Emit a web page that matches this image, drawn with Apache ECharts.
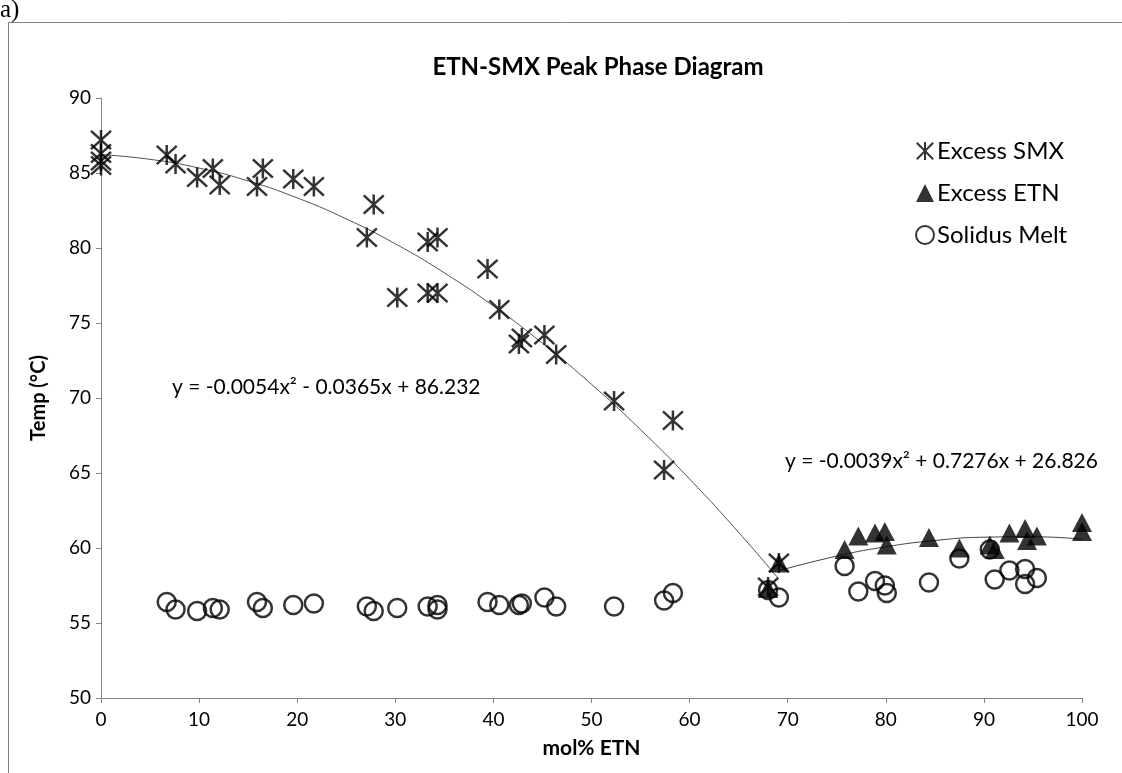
<!DOCTYPE html>
<html>
<head>
<meta charset="utf-8">
<script src="https://cdn.jsdelivr.net/npm/echarts@6/dist/echarts.min.js"></script>
<style>
html,body{margin:0;padding:0;background:#fff;}
#c{width:1122px;height:773px;}
</style>
</head>
<body>
<div id="c"></div>
<script>
// ---- data ----
const chartTitle = 'ETN-SMX Peak Phase Diagram';
const xAxisTitle = 'mol% ETN';
const yAxisTitle = 'Temp (°C)';
const seriesNames = ['Excess SMX', 'Excess ETN', 'Solidus Melt'];
const eqLeft = 'y = -0.0054x² - 0.0365x + 86.232';
const eqRight = 'y = -0.0039x² + 0.7276x + 26.826';

const excessSMX = [
  [0,87.2],[0,86.3],[0,85.8],[0,85.5],
  [6.7,86.2],[7.6,85.6],[9.8,84.7],[11.4,85.3],[12.1,84.2],[15.9,84.1],[16.5,85.3],
  [19.6,84.6],[21.7,84.1],[27.1,80.7],[27.8,82.9],[30.2,76.7],[33.3,80.4],[33.3,77.0],
  [34.3,80.7],[34.3,77.0],[39.4,78.6],[40.6,75.9],[42.6,73.6],[42.9,74.0],[45.2,74.2],
  [46.4,72.9],[52.3,69.8],[57.4,65.2],[58.3,68.5],[68.0,57.4],[69.1,59.0]
];
const excessETN = [
  [68.0,57.3],[69.1,59.0],[75.8,59.9],[77.2,60.8],[78.9,61.0],[79.9,61.1],[80.1,60.2],
  [84.4,60.7],[87.5,60.0],[90.6,60.2],[91.1,59.9],[92.6,61.0],[94.2,61.3],[94.4,60.5],
  [95.4,60.8],[100,61.7],[100,61.1]
];
const solidusMelt = [
  [6.7,56.4],[7.6,55.9],[9.8,55.8],[11.4,56.0],[12.1,55.9],[15.9,56.4],[16.5,56.0],
  [19.6,56.2],[21.7,56.3],[27.1,56.1],[27.8,55.8],[30.2,56.0],[33.3,56.1],[34.3,56.2],
  [34.3,55.9],[39.4,56.4],[40.6,56.2],[42.6,56.2],[42.9,56.3],[45.2,56.7],[46.4,56.1],
  [52.3,56.1],[57.4,56.5],[58.3,57.0],[68.0,57.2],[69.1,56.7],[75.8,58.8],[77.2,57.1],
  [78.9,57.8],[79.9,57.5],[80.1,57.0],[84.4,57.7],[87.5,59.3],[90.6,59.9],[91.1,57.9],
  [92.6,58.5],[94.2,58.6],[94.2,57.6],[95.4,58.0]
];
// trendline points
const trendSMX = [
  [0,86.23],[5,85.91],[10,85.33],[15,84.47],[20,83.34],[25,81.94],[30,80.28],[35,78.34],
  [40,76.13],[45,73.65],[50,70.91],[55,67.89],[60,64.60],[65,61.04],[69.1,57.93]
];
const trendETN = [
  [69.1,58.49],[75,59.46],[80,60.08],[85,60.50],[90,60.72],[95,60.75],[100,60.59]
];
const xTickMin = 0, xTickMax = 100, xTickStep = 10;
const yTickMin = 50, yTickMax = 90, yTickStep = 5;

// ---- chart ----
const FONT = 'Lato, "Open Sans", sans-serif';
const chart = echarts.init(document.getElementById('c'), null, {renderer: 'canvas'});
const asterisk = 'path://M0,0L20,20M20,0L0,20M10,-1L10,21';

const option = {
  animation: false,
  backgroundColor: '#fff',
  textStyle: {fontFamily: FONT},
  grid: {left: 101, right: 40, top: 98, bottom: 75, containLabel: false},
  legend: {
    orient: 'vertical',
    left: 910, top: 134,
    itemGap: 18,
    itemWidth: 18, itemHeight: 18,
    data: seriesNames,
    textStyle: {fontFamily: FONT, fontSize: 24, color: '#000', padding: [0,0,0,-2]}
  },
  xAxis: {
    type: 'value', min: xTickMin, max: xTickMax, interval: xTickStep,
    name: xAxisTitle, nameLocation: 'middle', nameGap: 40,
    nameTextStyle: {fontFamily: FONT, fontSize: 21, fontWeight: 'bold', color: '#000'},
    axisLine: {show: true, lineStyle: {color: '#868686', width: 1}},
    axisTick: {show: true, length: 5, lineStyle: {color: '#868686'}},
    axisLabel: {fontFamily: FONT, fontSize: 19, color: '#000', margin: 12},
    splitLine: {show: false}
  },
  yAxis: {
    type: 'value', min: yTickMin, max: yTickMax, interval: yTickStep,
    name: yAxisTitle, nameLocation: 'middle', nameGap: 52, nameRotate: 90,
    nameTextStyle: {fontFamily: FONT, fontSize: 20, fontWeight: 'bold', color: '#000'},
    axisLine: {show: true, lineStyle: {color: '#868686', width: 1}},
    axisTick: {show: true, length: 5, lineStyle: {color: '#868686'}},
    axisLabel: {fontFamily: FONT, fontSize: 19, color: '#000', margin: 10},
    splitLine: {show: false}
  },
  series: [
    {
      name: 'trendSMX', type: 'line', data: trendSMX, smooth: true, symbol: 'none',
      lineStyle: {color: '#505050', width: 1}, silent: true, legendHoverLink: false, z: 1
    },
    {
      name: 'trendETN', type: 'line', data: trendETN, smooth: true, symbol: 'none',
      lineStyle: {color: '#404040', width: 1}, silent: true, legendHoverLink: false, z: 1
    },
    {
      name: seriesNames[0], type: 'scatter', data: excessSMX,
      symbol: asterisk, symbolSize: 20,
      itemStyle: {color: 'rgba(0,0,0,0)', borderColor: '#000', borderWidth: 2.5},
      z: 3
    },
    {
      name: seriesNames[1], type: 'scatter', data: excessETN,
      symbol: 'triangle', symbolSize: [20, 19],
      itemStyle: {color: '#000'},
      z: 4
    },
    {
      name: seriesNames[2], type: 'scatter', data: solidusMelt,
      symbol: 'circle', symbolSize: 18,
      itemStyle: {color: 'rgba(0,0,0,0)', borderColor: '#000', borderWidth: 2.5},
      z: 5
    }
  ],
  graphic: [
    {type: 'rect', shape: {x: 8.5, y: 22.5, width: 1200, height: 900},
     style: {fill: 'none', stroke: '#808080', lineWidth: 1}, silent: true, z: 0},
    {type: 'text', left: 0, top: -2,
     style: {text: 'a)', font: '25px "Liberation Serif", "DejaVu Serif", serif', fill: '#000'}},
    {type: 'text', x: 598, y: 67,
     style: {text: chartTitle, font: 'bold 24px ' + FONT, fill: '#000', textAlign: 'center', textVerticalAlign: 'middle'}},
    {type: 'text', x: 172, y: 387,
     style: {text: eqLeft, font: '21px ' + FONT, fill: '#000', textAlign: 'left', textVerticalAlign: 'middle'}},
    {type: 'text', x: 785, y: 461,
     style: {text: eqRight, font: '21px ' + FONT, fill: '#000', textAlign: 'left', textVerticalAlign: 'middle'}}
  ]
};
chart.setOption(option);
</script>
</body>
</html>
